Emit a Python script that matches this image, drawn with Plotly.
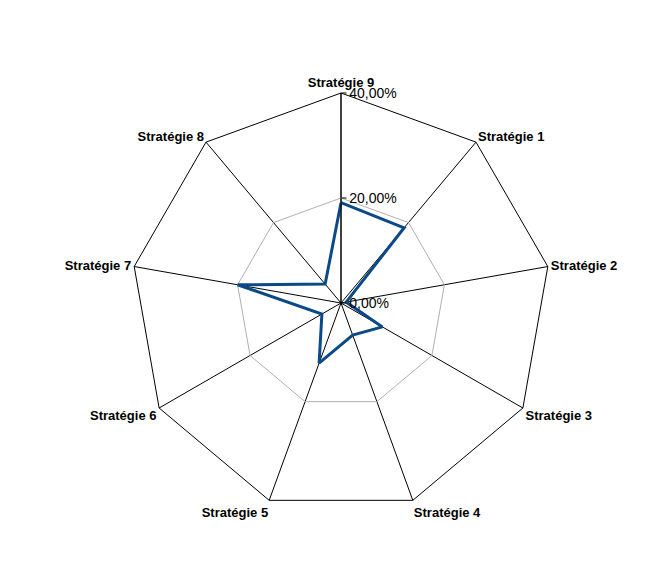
import plotly.graph_objects as go

categories = ["Stratégie 9", "Stratégie 1", "Stratégie 2", "Stratégie 3", "Stratégie 4",
              "Stratégie 5", "Stratégie 6", "Stratégie 7", "Stratégie 8"]
values = [0.191, 0.187, 0.01, 0.091, 0.065, 0.122, 0.042, 0.20, 0.047]
tick_vals = [0.0, 0.2, 0.4]

fig = go.Figure()
fig.add_trace(go.Scatterpolar(
    r=values + values[:1],
    theta=categories + categories[:1],
    mode="lines",
    line=dict(color="#0b4a86", width=3),
    showlegend=False,
))

fig.update_layout(
    width=670, height=580,
    paper_bgcolor="white",
    separators=",.",
    font=dict(family="Liberation Sans, Arial", color="black", size=13),
    margin=dict(l=122, r=126, t=85, b=75),
    polar=dict(
        domain=dict(x=[0, 1], y=[0, 1]),
        bgcolor="white",
        gridshape="linear",
        radialaxis=dict(
            range=[0, 0.4], tickvals=tick_vals, tickformat=".2%",
            angle=90, tickangle=90, showline=True, linecolor="black",
            gridcolor="#b0b0b0", ticks="outside", tickcolor="black",
            tickfont=dict(size=14),
        ),
        angularaxis=dict(
            direction="clockwise", rotation=90,
            linecolor="black", gridcolor="black",
            tickfont=dict(size=13, family="Liberation Sans, Arial", weight="bold"),
        ),
    ),
)

fig.write_html("out.html")
